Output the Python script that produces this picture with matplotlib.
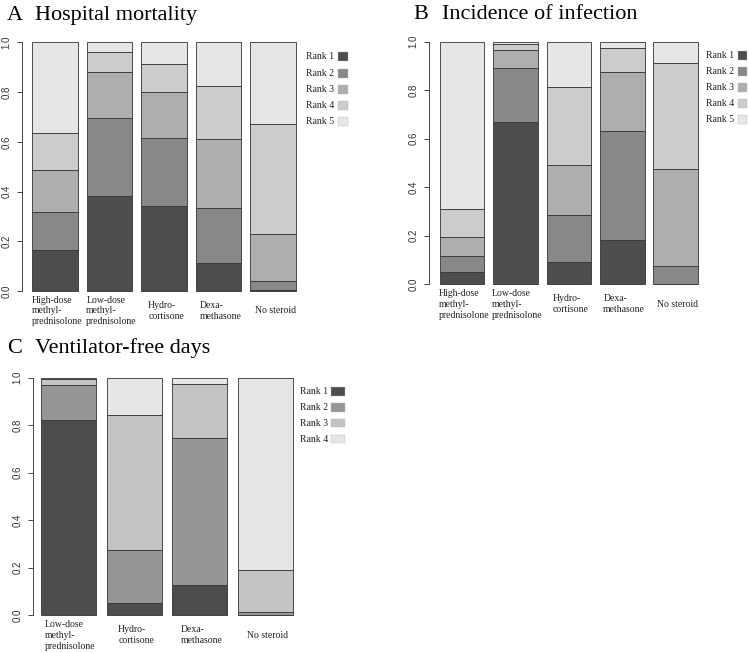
import numpy as np
import matplotlib
matplotlib.use('Agg')
import matplotlib.pyplot as plt
from matplotlib.patches import Rectangle

# probability of each rank (rows = rank, cols = treatment)
labels_5 = ['High-dose\nmethyl-\nprednisolone', 'Low-dose\nmethyl-\nprednisolone',
            'Hydro-\ncortisone', 'Dexa-\nmethasone', 'No steroid']
labels_4 = labels_5[1:]

mortality = [
    [0.165, 0.381, 0.340, 0.113, 0.005],
    [0.154, 0.316, 0.274, 0.219, 0.034],
    [0.166, 0.182, 0.186, 0.278, 0.190],
    [0.152, 0.082, 0.112, 0.213, 0.441],
    [0.363, 0.039, 0.088, 0.177, 0.330],
]
infection = [
    [0.052, 0.669, 0.093, 0.183, 0.003],
    [0.066, 0.224, 0.193, 0.449, 0.071],
    [0.078, 0.074, 0.206, 0.242, 0.403],
    [0.114, 0.022, 0.323, 0.101, 0.435],
    [0.690, 0.011, 0.185, 0.025, 0.088],
]
vfd = [
    [0.820, 0.053, 0.129, 0.000],
    [0.149, 0.223, 0.619, 0.014],
    [0.027, 0.567, 0.225, 0.177],
    [0.004, 0.157, 0.027, 0.809],
]

W, H = 749, 653
fig = plt.figure(figsize=(W / 100, H / 100), dpi=100)
serif = ['Liberation Serif', 'DejaVu Serif']
sans = ['Liberation Sans', 'DejaVu Sans']


def gray_colors(n):
    # R's gray.colors(n)
    v = np.linspace(0.3 ** 2.2, 0.9 ** 2.2, n) ** (1 / 2.2)
    return [(g, g, g) for g in v]


def px_axes(left, right, top, bottom):
    return fig.add_axes([left / W, 1 - bottom / H, (right - left) / W, (bottom - top) / H])


def panel(rect, data, labels, xlim, letter, title, title_xy, legend_spec):
    ax = px_axes(*rect)
    data = np.array(data)
    cols = gray_colors(data.shape[0])
    x = np.arange(data.shape[1])
    bottom = np.zeros(data.shape[1])
    for i, row in enumerate(data):
        ax.bar(x, row, width=1 / 1.2, bottom=bottom, color=cols[i],
               edgecolor='#333333', linewidth=0.6)
        bottom += row
    ax.set_xlim(*xlim)
    ax.set_ylim(-0.04, 1.04)
    for s in ['top', 'right', 'bottom']:
        ax.spines[s].set_visible(False)
    ax.spines['left'].set_bounds(0, 1)
    ax.spines['left'].set_color('#444444')
    ax.spines['left'].set_linewidth(0.7)
    ax.set_xticks([])
    ax.set_yticks([0, 0.2, 0.4, 0.6, 0.8, 1.0])
    ax.set_yticklabels(['0.0', '0.2', '0.4', '0.6', '0.8', '1.0'],
                       rotation=90, va='center', family=sans, fontsize=7, color='#333333')
    ax.tick_params(axis='y', length=3.6, width=0.7, color='#444444', pad=4)
    for xi, lab in zip(x, labels):
        ax.annotate(lab, xy=(xi, 0), xytext=(2, -20), textcoords='offset pixels',
                    ha='center', va='center', multialignment='left',
                    family=serif, fontsize=7, linespacing=1.25, color='#222222')
    tx, ty, tx2 = title_xy
    fig.text(tx / W, 1 - ty / H, letter, family=serif, fontsize=16, va='baseline')
    fig.text(tx2 / W, 1 - ty / H, title, family=serif, fontsize=16, va='baseline')
    text_r, box_l, box_r, box_h, rows = legend_spec
    for i, yy in enumerate(rows):
        fig.text(text_r / W, 1 - yy / H, 'Rank %d' % (i + 1), family=serif, fontsize=7,
                 ha='right', va='center', color='#222222')
        fig.patches.append(Rectangle((box_l / W, 1 - (yy + box_h / 2) / H),
                                     (box_r - box_l) / W, box_h / H,
                                     transform=fig.transFigure, facecolor=cols[i],
                                     edgecolor='#bbbbbb', linewidth=0.3))
    return ax


# A: hospital mortality
panel((21.7, 306.5, 32.4, 300.9), mortality, labels_5, (-0.61, 4.61),
      'A', 'Hospital mortality', (7, 20, 35),
      (334, 338, 348, 9, [56.7, 73.0, 89.3, 105.6, 121.9]))

# B: incidence of infection
panel((429.3, 708.3, 32.0, 294.0), infection, labels_5, (-0.61, 4.61),
      'B', 'Incidence of infection', (413, 19, 442),
      (734.3, 737.7, 747.3, 9, [55.7, 71.7, 87.6, 103.5, 119.4]))

# C: ventilator-free days
panel((33, 301, 368.2, 624.8), vfd, labels_4, (-0.538, 3.538),
      'C', 'Ventilator-free days', (7, 353, 35),
      (328, 331, 345, 8.5, [391.7, 407.4, 423.2, 439.0]))

fig.savefig('out.png', dpi=100)
